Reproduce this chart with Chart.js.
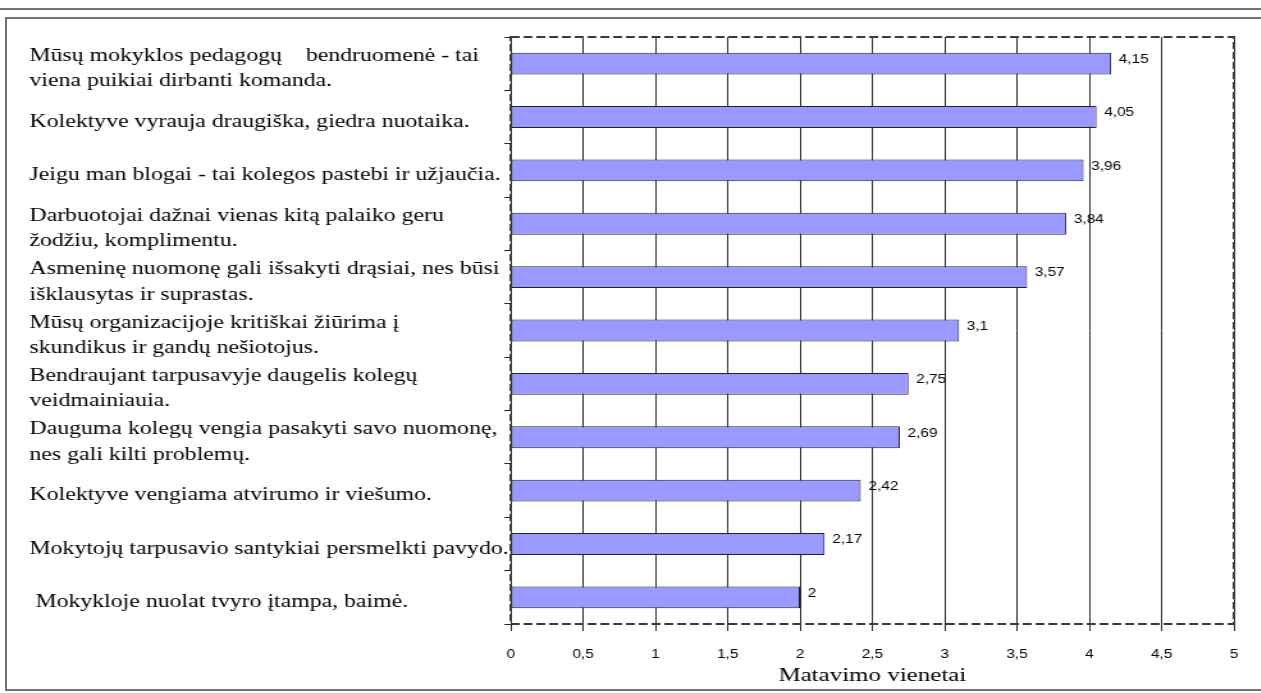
<!DOCTYPE html>
<html>
<head>
<meta charset="utf-8">
<script src="https://cdn.jsdelivr.net/npm/chart.js@4"></script>
<style>
  html, body { margin: 0; padding: 0; background: #fff; }
  #wrap { position: relative; width: 1261px; height: 693px; overflow: hidden; }
  /* rėmelis aplink diagramą */
  .line-top { position: absolute; left: 0; top: 8px; width: 1261px; height: 0; border-top: 2px solid #707070; }
  .box { position: absolute; left: 5px; top: 17px; width: 1256px; height: 670px;
         border-top: 2px solid #707070; border-left: 2px solid #707070; border-bottom: 2px solid #707070; }
  /* diagrama ištempta horizontaliai, kaip originale */
  canvas { position: absolute; left: 0; top: 0; transform: scaleX(1.28); transform-origin: 0 0; }
</style>
</head>
<body>
<div id="wrap">
  <div class="line-top"></div>
  <div class="box"></div>
  <canvas id="chart" width="985" height="693"></canvas>
</div>
<script>
// teiginiai (kategorijos), iš viršaus į apačią
const teiginiai = [
    ['Mūsų mokyklos pedagogų    bendruomenė - tai', 'viena puikiai dirbanti komanda.'],
    'Kolektyve vyrauja draugiška, giedra nuotaika.',
    'Jeigu man blogai - tai kolegos pastebi ir užjaučia.',
    ['Darbuotojai dažnai vienas kitą palaiko geru', 'žodžiu, komplimentu.'],
    ['Asmeninę nuomonę gali išsakyti drąsiai, nes būsi', 'išklausytas ir suprastas.'],
    ['Mūsų organizacijoje kritiškai žiūrima į', 'skundikus ir gandų nešiotojus.'],
    ['Bendraujant tarpusavyje daugelis kolegų', 'veidmainiauia.'],
    ['Dauguma kolegų vengia pasakyti savo nuomonę,', 'nes gali kilti problemų.'],
    'Kolektyve vengiama atvirumo ir viešumo.',
    'Mokytojų tarpusavio santykiai persmelkti pavydo.',
    ' Mokykloje nuolat tvyro įtampa, baimė.'
];

// vidutiniai įverčiai
const iverciai = [4.15, 4.05, 3.96, 3.84, 3.57, 3.1, 2.75, 2.69, 2.42, 2.17, 2];

// x ašies skalė
const asiesMin = 0;
const asiesMax = 5;
const asiesZingsnis = 0.5;
const asiesPavadinimas = 'Matavimo vienetai';

// skaičius su kableliu
function kablelis(v) {
    return String(v).replace('.', ',');
}

// punktyrinis rėmelis aplink braižymo sritį
const remelis = {
    id: 'remelis',
    afterDraw(chart) {
        const { ctx, chartArea: a } = chart;
        ctx.save();
        ctx.strokeStyle = '#3a3a3a';
        ctx.lineWidth = 2;
        ctx.setLineDash([7, 3]);
        ctx.strokeRect(a.left, a.top, a.right - a.left, a.bottom - a.top);
        ctx.restore();
    }
};

// reikšmės prie stulpelių galų
const reiksmes = {
    id: 'reiksmes',
    afterDatasetsDraw(chart) {
        const { ctx } = chart;
        const meta = chart.getDatasetMeta(0);
        ctx.save();
        ctx.font = '12px "Liberation Sans", Arial, sans-serif';
        ctx.fillStyle = '#000';
        ctx.textAlign = 'left';
        ctx.textBaseline = 'middle';
        meta.data.forEach((bar, i) => {
            ctx.fillText(kablelis(iverciai[i]), bar.x + 6, bar.y - 4);
        });
        ctx.restore();
    }
};

const ctx = document.getElementById('chart').getContext('2d');

new Chart(ctx, {
    type: 'bar',
    data: {
        labels: teiginiai,
        datasets: [{
            data: iverciai,
            backgroundColor: '#9999ff',
            borderColor: '#222',
            borderWidth: 1,
            borderSkipped: false,
            categoryPercentage: 1,
            barPercentage: 0.41
        }]
    },
    options: {
        indexAxis: 'y',
        responsive: false,
        animation: false,
        devicePixelRatio: 1,
        layout: {
            padding: { left: 23, right: 21, top: 37, bottom: 0 }
        },
        plugins: {
            legend: { display: false },
            tooltip: { enabled: false }
        },
        scales: {
            x: {
                min: asiesMin,
                max: asiesMax,
                border: { display: false },
                grid: {
                    color: '#2a2a2a',
                    lineWidth: 1,
                    tickLength: 7
                },
                ticks: {
                    stepSize: asiesZingsnis,
                    padding: 16,
                    color: '#000',
                    font: { family: '"Liberation Sans", Arial, sans-serif', size: 12 },
                    callback: function(value) {
                        return kablelis(value);
                    }
                },
                title: {
                    display: true,
                    text: asiesPavadinimas,
                    color: '#000',
                    font: { family: '"Liberation Serif", "Times New Roman", serif', size: 19.5 },
                    padding: { top: 4, bottom: 5 }
                },
                afterFit: function(scale) {
                    scale.height = 69;
                }
            },
            y: {
                border: { display: false },
                grid: {
                    offset: true,
                    drawOnChartArea: false,
                    color: '#2a2a2a',
                    tickLength: 5
                },
                ticks: {
                    autoSkip: false,
                    crossAlign: 'far',
                    labelOffset: 5,
                    color: '#000',
                    font: { family: '"Liberation Serif", "Times New Roman", serif', size: 18.6, lineHeight: 1.36 }
                },
                afterFit: function(scale) {
                    scale.width = 376;
                }
            }
        }
    },
    plugins: [remelis, reiksmes]
});
</script>
</body>
</html>
